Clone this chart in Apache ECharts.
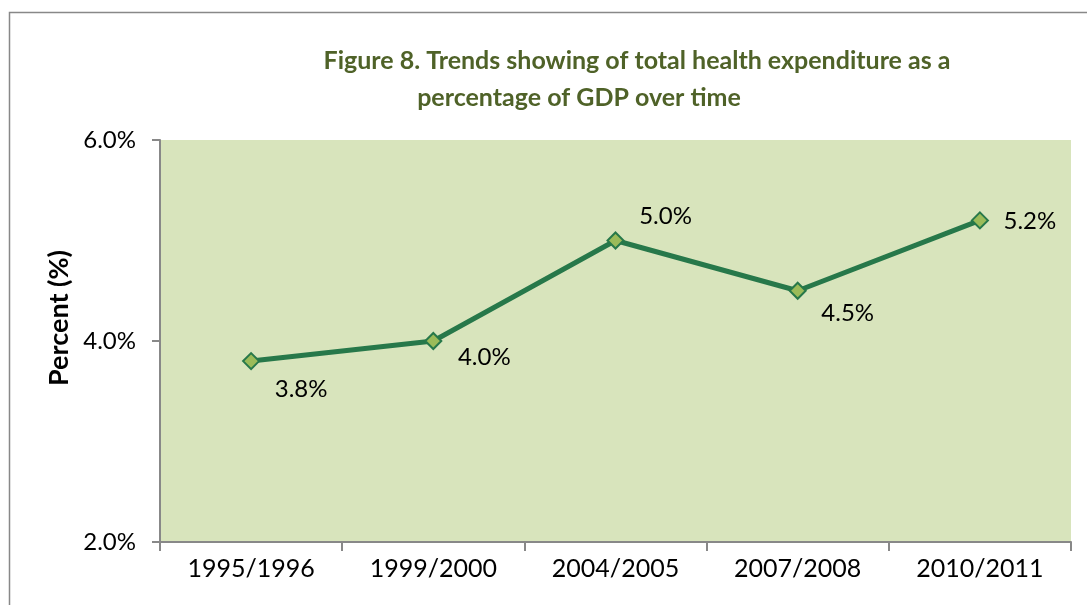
<!DOCTYPE html>
<html><head><meta charset="utf-8">
<script src="https://cdn.jsdelivr.net/npm/echarts@6/dist/echarts.min.js"></script>
<style>html,body{margin:0;padding:0;background:#fff}#c{width:1087px;height:605px}</style>
</head><body><div id="c"></div>
<script>
const categories = ['1995/1996','1999/2000','2004/2005','2007/2008','2010/2011'];
const values = [3.8, 4.0, 5.0, 4.5, 5.2];
const yTicks = { min: 2, max: 6, interval: 2 };
const titleLines = ['Figure 8. Trends showing of total health expenditure as a', 'percentage of GDP over time'];
const labelOffsets = [[50,28],[51,16],[50,-24],[50,23],[50,1]];
const FONT = 'Lato, "Open Sans", sans-serif';
const titleStyle = {color:'#4f6228', fontSize:25, fontWeight:'bold', fontFamily:FONT};
const chart = echarts.init(document.getElementById('c'), null, {renderer:'canvas'});
chart.setOption({
  backgroundColor:'#fff',
  animation:false,
  title:[
    {text:titleLines[0], top:48, textAlign:'center', left:637, textStyle:titleStyle, padding:0},
    {text:titleLines[1], top:85, textAlign:'center', left:579, textStyle:titleStyle, padding:0}
  ],
  graphic:[{type:'rect', shape:{x:9.5,y:12.5,width:1200,height:800}, style:{fill:'none',stroke:'#888',lineWidth:1.5}, z:-1}],
  grid:{left:160, right:16, top:140, bottom:63, show:true, backgroundColor:'#d8e4bc', borderWidth:0},
  xAxis:{type:'category', data:categories, boundaryGap:true,
    axisLine:{lineStyle:{color:'#888', width:2}},
    axisTick:{show:true, length:9, alignWithLabel:false, lineStyle:{color:'#888', width:2}},
    axisLabel:{color:'#000', fontSize:25, fontFamily:FONT, margin:14}
  },
  yAxis:{type:'value', min:yTicks.min, max:yTicks.max, interval:yTicks.interval,
    name:'Percent (%)', nameLocation:'middle', nameGap:84, nameRotate:90,
    nameTextStyle:{color:'#000', fontSize:27, fontWeight:'bold', fontFamily:FONT, padding:[0,0,0,46]},
    axisLine:{show:true, lineStyle:{color:'#888', width:2}},
    axisTick:{show:true, length:8, lineStyle:{color:'#888', width:2}},
    splitLine:{show:false},
    axisLabel:{color:'#000', fontSize:24, fontFamily:FONT, margin:24, formatter:v=>v.toFixed(1)+'%'}
  },
  series:[{type:'line', data:values.map((v,i)=>({value:v, label:{offset:labelOffsets[i]}})),
    symbol:'diamond', symbolSize:16,
    lineStyle:{color:'#27784a', width:5},
    itemStyle:{color:'#9bbb59', borderColor:'#27784a', borderWidth:2},
    label:{show:true, position:'inside', color:'#000', fontSize:24, fontFamily:FONT, formatter:p=>p.value.toFixed(1)+'%'}
  }]
});
</script></body></html>
